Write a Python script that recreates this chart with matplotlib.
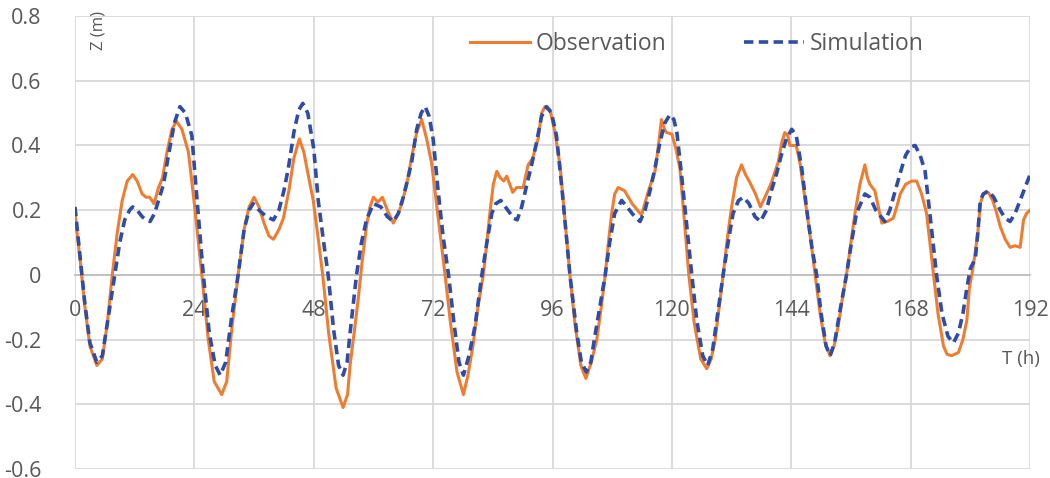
import matplotlib.pyplot as plt

obs_t = [0, 1, 2, 3, 4.4, 5.5, 6.5, 7.5, 8.5, 9.5, 10.5, 11.6, 12.5, 13.5, 14.3, 15, 15.9, 16.8, 17.6, 18.5,
         19.5, 20.4, 21.5, 22.8, 24, 25.5, 26.8, 28, 29.5, 30.5, 31.5, 32.8, 34, 35, 36, 37, 38, 39, 39.9, 41,
         41.9, 43, 44, 45.1, 46, 47, 47.9, 49, 49.8, 51, 52.5, 53.9, 54.8, 55.3, 56.2, 56.9, 57.8, 58.6, 59.3, 60,
         60.9, 61.8, 62.8, 64, 65, 65.7, 66.7, 67.7, 68.7, 69.7, 70.7, 71.7, 73, 74.4, 75.5, 76.8, 78.1, 79, 80, 81,
         82.1, 82.8, 83.4, 84.1, 84.8, 85.5, 86.2, 86.8, 87.4, 88, 88.8, 90.1, 91.1, 92, 93.1, 93.8, 94.5, 95.5, 96.5, 97.5,
         98.5, 99.5, 100.5, 101.7, 102.7, 103.8, 104.9, 105.8, 106.6, 107.3, 107.9, 108.5, 109.2, 110.5, 112, 113.9, 115.3, 116.6, 117.3, 117.9,
         118.5, 118.9, 120, 120.8, 121.6, 122.5, 123.4, 124.5, 125.8, 127, 127.9, 128.7, 129.5, 130.3, 131.2, 132, 133, 134, 134.8, 135.7,
         136.8, 137.8, 139, 140, 141.4, 142.1, 142.7, 143.3, 143.7, 145, 145.8, 146.8, 147.8, 148.8, 149.8, 150.8, 151.8, 152.6, 153.4, 154.3,
         155.1, 156, 156.8, 157.8, 158.8, 159.3, 159.8, 160.8, 161.5, 162.2, 163.3, 164.5, 165.2, 165.9, 167, 168.2, 169.2, 170.2, 171.2, 172,
         172.6, 173.5, 174.6, 175.3, 176.2, 177.6, 178.5, 179.3, 179.8, 180.3, 180.9, 181.5, 182, 182.6, 183.6, 184.5, 185.3, 186, 187, 188,
         189, 190, 190.7, 191.3, 192]
obs_z = [0.19, 0.05, -0.10, -0.22, -0.28, -0.26, -0.15, 0.0, 0.13, 0.23, 0.29, 0.31, 0.29, 0.25, 0.24, 0.24, 0.22, 0.27, 0.30, 0.38,
         0.45, 0.475, 0.45, 0.38, 0.22, 0.0, -0.20, -0.33, -0.37, -0.33, -0.17, 0.0, 0.14, 0.21, 0.24, 0.21, 0.16, 0.12, 0.11, 0.14,
         0.175, 0.26, 0.36, 0.42, 0.38, 0.30, 0.23, 0.10, 0.0, -0.18, -0.35, -0.41, -0.37, -0.28, -0.17, -0.08, 0.05, 0.15, 0.21, 0.24,
         0.225, 0.24, 0.20, 0.16, 0.19, 0.22, 0.28, 0.365, 0.44, 0.48, 0.42, 0.345, 0.18, 0.0, -0.15, -0.30, -0.37, -0.31, -0.22, -0.10,
         0.0, 0.10, 0.19, 0.28, 0.32, 0.30, 0.29, 0.305, 0.28, 0.255, 0.27, 0.27, 0.34, 0.36, 0.42, 0.50, 0.52, 0.51, 0.44, 0.34,
         0.17, 0.0, -0.15, -0.28, -0.32, -0.27, -0.20, -0.10, 0.0, 0.11, 0.19, 0.25, 0.27, 0.26, 0.22, 0.185, 0.26, 0.32, 0.40, 0.48,
         0.45, 0.44, 0.435, 0.39, 0.33, 0.17, 0.0, -0.15, -0.26, -0.29, -0.26, -0.20, -0.10, 0.0, 0.12, 0.21, 0.30, 0.34, 0.31, 0.285,
         0.25, 0.21, 0.25, 0.285, 0.35, 0.41, 0.44, 0.43, 0.40, 0.40, 0.34, 0.23, 0.12, 0.0, -0.12, -0.21, -0.25, -0.22, -0.16, -0.07,
         0.0, 0.10, 0.19, 0.28, 0.34, 0.30, 0.28, 0.26, 0.21, 0.16, 0.165, 0.175, 0.21, 0.25, 0.28, 0.29, 0.29, 0.25, 0.19, 0.08,
         0.0, -0.12, -0.22, -0.245, -0.25, -0.24, -0.20, -0.14, -0.04, 0.0, 0.06, 0.13, 0.22, 0.25, 0.255, 0.23, 0.19, 0.15, 0.11, 0.085,
         0.09, 0.085, 0.17, 0.19, 0.20]

sim_t = [0, 1, 2, 3, 4.4, 5.5, 6.5, 8, 9, 10, 11, 11.6, 12.5, 13.5, 14.3, 15.1, 16, 17, 17.8, 18.8,
         20, 21.1, 22.2, 23.5, 24.5, 25.8, 27, 28.2, 29.2, 30.3, 31.5, 32.8, 34, 35, 35.8, 37, 38.5, 39.9, 41, 42,
         42.9, 44, 45, 45.8, 46.8, 48, 48.9, 50, 50.9, 52, 53, 53.9, 54.7, 55.3, 56.6, 57.6, 58.6, 60, 61.5, 62.8,
         64, 65, 66, 66.8, 67.7, 68.7, 69.6, 70.4, 71.2, 72, 73, 74, 75.1, 76.2, 77.2, 78.1, 79.2, 80.4, 81.8, 82.8,
         83.8, 84.6, 85.6, 87, 88.2, 88.9, 89.8, 90.7, 91.8, 92.8, 93.8, 94.8, 95.8, 96.8, 98, 99.5, 100.8, 101.8, 102.8, 103.7,
         104.4, 105.5, 106.6, 107.5, 108.5, 109.9, 111, 112.5, 113.6, 114.6, 115.6, 116.6, 117.6, 118.6, 119.6, 120.4, 121, 122, 123, 124,
         125, 126.2, 127.2, 128.2, 129.2, 130.3, 131.3, 132.3, 133.4, 134.4, 135.5, 136.7, 137.8, 139, 140, 141, 142, 143, 144.1, 145,
         146.1, 147.2, 148.2, 149.1, 150, 151, 151.8, 152.7, 153.8, 155.1, 156.1, 157.1, 158.8, 159.8, 161, 162.8, 163.8, 164.9, 166, 167,
         168, 168.9, 169.9, 170.9, 172, 173.2, 174.3, 175.5, 176.6, 177.6, 178.5, 179.3, 180, 181, 181.5, 182, 182.6, 183.6, 184.7, 186,
         187, 188, 189, 190, 191, 192]
sim_z = [0.21, 0.06, -0.09, -0.21, -0.27, -0.25, -0.15, 0.0, 0.10, 0.17, 0.20, 0.21, 0.20, 0.18, 0.17, 0.165, 0.19, 0.24, 0.28, 0.37,
         0.47, 0.52, 0.50, 0.43, 0.24, 0.0, -0.18, -0.28, -0.31, -0.27, -0.13, 0.0, 0.14, 0.20, 0.22, 0.20, 0.18, 0.17, 0.20, 0.26,
         0.33, 0.44, 0.51, 0.53, 0.50, 0.39, 0.23, 0.10, 0.0, -0.17, -0.28, -0.31, -0.27, -0.18, 0.0, 0.10, 0.17, 0.22, 0.21, 0.18,
         0.165, 0.19, 0.24, 0.29, 0.35, 0.45, 0.50, 0.52, 0.49, 0.42, 0.26, 0.12, 0.0, -0.15, -0.27, -0.31, -0.25, -0.16, 0.0, 0.10,
         0.19, 0.22, 0.23, 0.20, 0.175, 0.17, 0.21, 0.27, 0.34, 0.41, 0.49, 0.52, 0.50, 0.43, 0.25, 0.0, -0.17, -0.27, -0.30, -0.27,
         -0.20, -0.10, 0.0, 0.10, 0.19, 0.23, 0.21, 0.18, 0.165, 0.20, 0.26, 0.33, 0.41, 0.47, 0.495, 0.48, 0.44, 0.30, 0.15, 0.0,
         -0.14, -0.25, -0.28, -0.23, -0.12, 0.0, 0.10, 0.19, 0.23, 0.24, 0.22, 0.18, 0.165, 0.20, 0.26, 0.31, 0.37, 0.42, 0.45, 0.43,
         0.33, 0.19, 0.08, 0.0, -0.12, -0.22, -0.25, -0.21, -0.11, 0.0, 0.10, 0.19, 0.25, 0.24, 0.20, 0.165, 0.20, 0.26, 0.32, 0.37,
         0.395, 0.40, 0.37, 0.32, 0.17, 0.0, -0.12, -0.19, -0.21, -0.18, -0.12, -0.04, 0.02, 0.05, 0.13, 0.23, 0.25, 0.26, 0.24, 0.20,
         0.175, 0.165, 0.19, 0.23, 0.27, 0.31]

x_ticks = [0, 24, 48, 72, 96, 120, 144, 168, 192]
y_ticks = [-0.6, -0.4, -0.2, 0, 0.2, 0.4, 0.6, 0.8]
y_labels = ['-0.6', '-0.4', '-0.2', '0', '0.2', '0.4', '0.6', '0.8']

plt.rcParams['font.family'] = ['Open Sans', 'DejaVu Sans']
grey = '#595959'

fig = plt.figure(figsize=(10.5, 4.78), dpi=100)
ax = fig.add_axes([0.0714, 0.0188, 0.9096, 0.9477])

ax.plot(obs_t, obs_z, color='#ED7D31', lw=2.2, label='Observation', zorder=3)
ax.plot(sim_t, sim_z, color='#2F4DA6', lw=2.6, ls=(0, (2.6, 1.5)), label='Simulation', zorder=4)

ax.set_xlim(0, 192)
ax.set_ylim(-0.6, 0.8)
ax.set_xticks(x_ticks)
ax.set_yticks(y_ticks)
ax.set_yticklabels(y_labels)
ax.grid(True, color='#D9D9D9', lw=1.3)
ax.set_axisbelow(True)

for s in ['top', 'right', 'left']:
    ax.spines[s].set_visible(False)
ax.spines['bottom'].set_position(('data', 0))
ax.spines['bottom'].set_color('#BFBFBF')
ax.spines['bottom'].set_linewidth(1.3)
ax.tick_params(axis='both', length=0, labelsize=15.5, labelcolor=grey)
ax.tick_params(axis='x', pad=18)
ax.tick_params(axis='y', pad=24)

ax.text(4.8, 0.755, 'Z (m)', rotation=90, ha='center', va='center', fontsize=12, color=grey)
ax.text(190.2, -0.26, 'T (h)', ha='center', va='center', fontsize=13.5, color=grey, clip_on=False)

ax.legend(loc='center', bbox_to_anchor=(0.651, 0.938), ncol=2, frameon=False, fontsize=16.5,
          handlelength=2.6, handletextpad=0.25, columnspacing=3.4, labelcolor=grey)

fig.savefig('out.png', dpi=100)
